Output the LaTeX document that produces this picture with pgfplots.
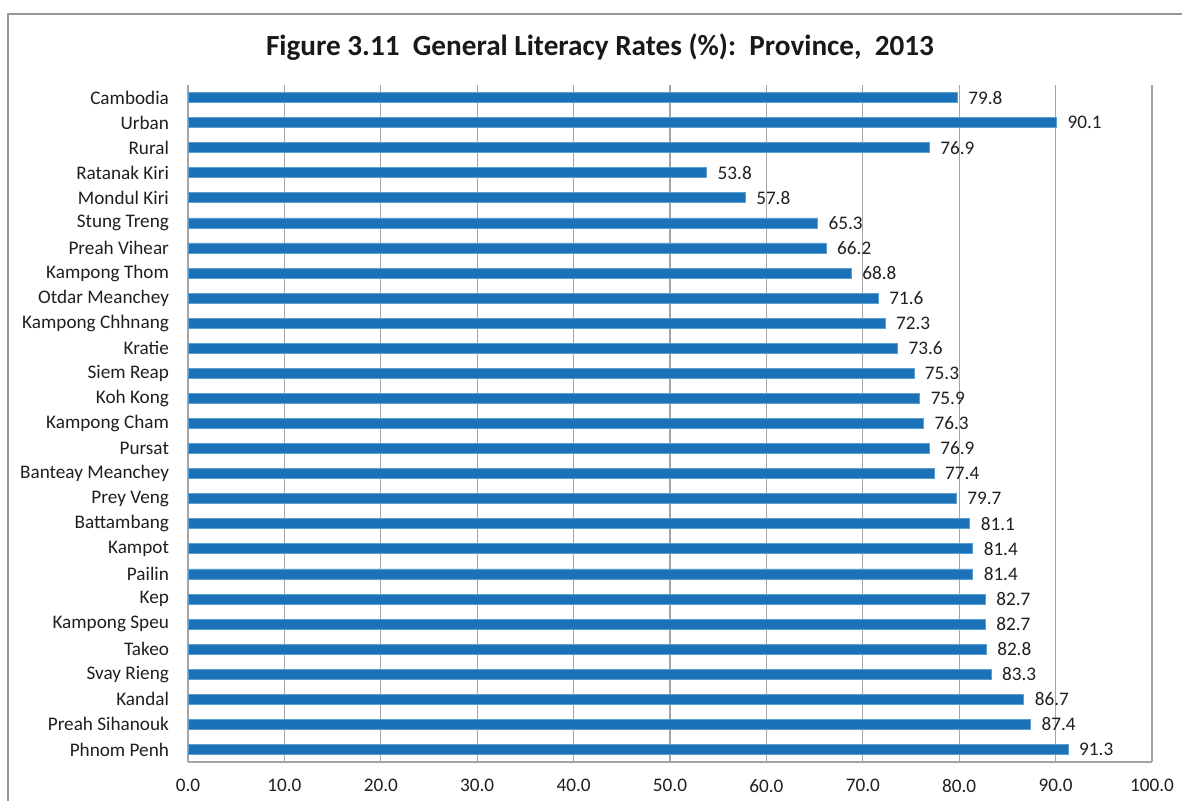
\documentclass[border=0pt]{standalone}
\usepackage{pgfplots}
\pgfplotsset{compat=1.18}
\usepackage{fontspec}
\setmainfont{Carlito}
\definecolor{barblue}{RGB}{28,114,184}
\definecolor{baredge}{RGB}{90,158,210}
\definecolor{gridgray}{RGB}{165,165,165}
\definecolor{framegray}{RGB}{150,150,150}
\begin{document}
\begin{tikzpicture}[x=0.5pt,y=0.5pt]
\path[use as bounding box] (0,0) rectangle (1182,801);
\draw[framegray, line width=0.8pt] (8,0) -- (8,787) -- (1182,787);
\node[font=\bfseries\fontsize{14.6}{18}\selectfont, text=black!90, anchor=center] at (600,754) {Figure 3.11\ \ General Literacy Rates (\%):\ \ Province,\ \ 2013};
\begin{axis}[
  at={(94pt,19.5pt)}, anchor=south west,
  scale only axis, width=482pt, height=338.5pt,
  xmin=0, xmax=100, ymin=-0.5, ymax=26.5,
  y dir=reverse,
  axis x line*=bottom, axis y line*=left,
  axis line style={gridgray, line width=0.6pt},
  xtick={0,10,...,100},
  xticklabels={0.0,10.0,20.0,30.0,40.0,50.0,60.0,70.0,80.0,90.0,100.0},
  xmajorgrids, major grid style={gridgray, line width=0.6pt},
  major tick length=0pt,
  ytick={0,...,26},
  yticklabels={Cambodia,Urban,Rural,Ratanak Kiri,Mondul Kiri,Stung Treng,Preah Vihear,Kampong Thom,Otdar Meanchey,Kampong Chhnang,Kratie,Siem Reap,Koh Kong,Kampong Cham,Pursat,Banteay Meanchey,Prey Veng,Battambang,Kampot,Pailin,Kep,Kampong Speu,Takeo,Svay Rieng,Kandal,Preah Sihanouk,Phnom Penh},
  ticklabel style={font=\fontsize{9.6}{11}\selectfont, text=black!88},
  xticklabel style={yshift=-5pt},
  yticklabel style={xshift=-6pt},
  xbar, bar width=5pt,
  point meta=explicit symbolic,
  nodes near coords,
  nodes near coords style={font=\fontsize{9.6}{11}\selectfont, text=black!88, anchor=west, xshift=2pt},
  clip=false,
]
\addplot[fill=barblue, draw=baredge, line width=0.4pt] coordinates {
(79.8,0) [79.8]
(90.1,1) [90.1]
(76.9,2) [76.9]
(53.8,3) [53.8]
(57.8,4) [57.8]
(65.3,5) [65.3]
(66.2,6) [66.2]
(68.8,7) [68.8]
(71.6,8) [71.6]
(72.3,9) [72.3]
(73.6,10) [73.6]
(75.3,11) [75.3]
(75.9,12) [75.9]
(76.3,13) [76.3]
(76.9,14) [76.9]
(77.4,15) [77.4]
(79.7,16) [79.7]
(81.1,17) [81.1]
(81.4,18) [81.4]
(81.4,19) [81.4]
(82.7,20) [82.7]
(82.7,21) [82.7]
(82.8,22) [82.8]
(83.3,23) [83.3]
(86.7,24) [86.7]
(87.4,25) [87.4]
(91.3,26) [91.3]
};
\end{axis}
\end{tikzpicture}
\end{document}
